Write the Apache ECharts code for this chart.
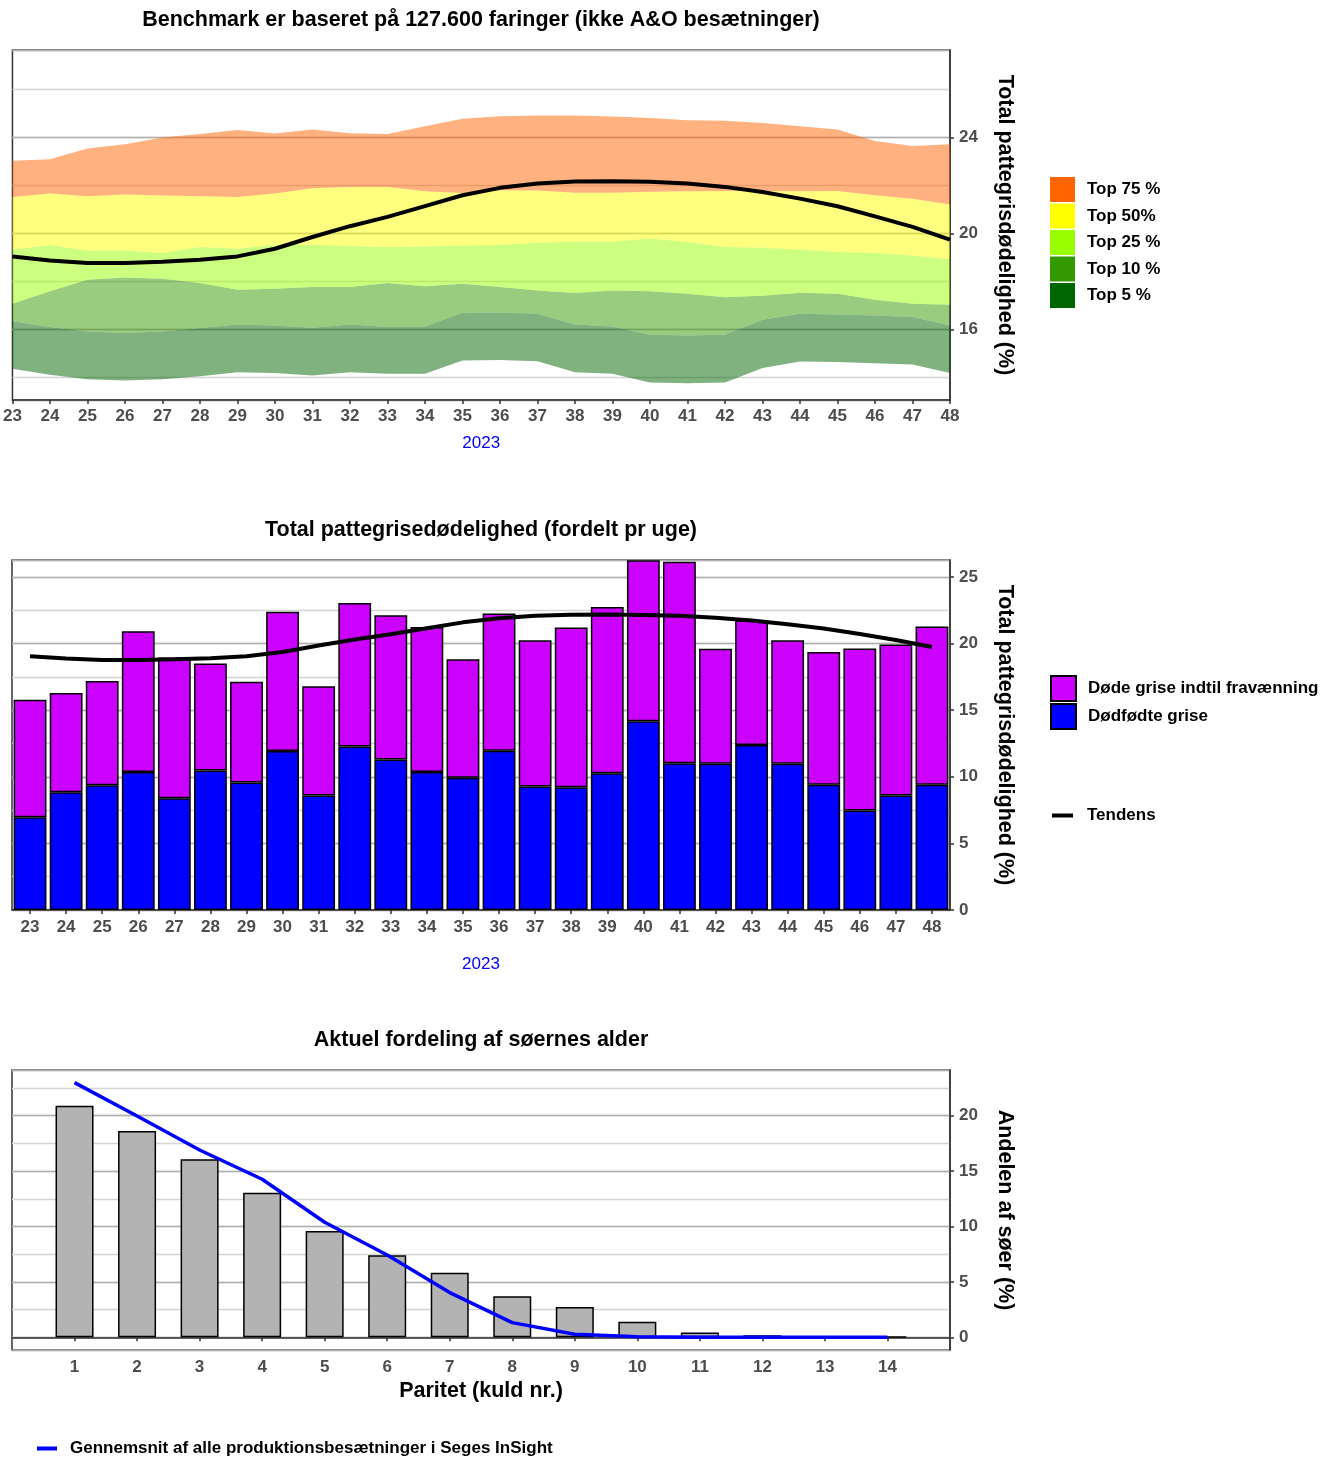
<!DOCTYPE html>
<html><head><meta charset="utf-8">
<script src="https://cdn.jsdelivr.net/npm/echarts@6/dist/echarts.min.js"></script>
<style>html,body{margin:0;padding:0;background:#fff}#c{width:1333px;height:1457px}</style>
</head><body><div id="c"></div>
<script>
// ---------- DATA ----------
const weeks = ['23','24','25','26','27','28','29','30','31','32','33','34','35','36','37','38','39','40','41','42','43','44','45','46','47','48'];
// benchmark band boundaries (top chart)
const top75Upper = [23.03,23.09,23.54,23.72,24.00,24.15,24.31,24.17,24.33,24.18,24.15,24.47,24.78,24.89,24.92,24.92,24.88,24.81,24.72,24.70,24.61,24.47,24.33,23.85,23.65,23.72];
const top50Upper = [21.52,21.66,21.55,21.62,21.58,21.55,21.52,21.66,21.88,21.94,21.94,21.76,21.69,21.80,21.79,21.70,21.70,21.74,21.76,21.77,21.77,21.76,21.77,21.59,21.45,21.20];
const top25Upper = [19.32,19.52,19.29,19.29,19.18,19.43,19.36,19.52,19.53,19.47,19.43,19.45,19.49,19.52,19.61,19.65,19.65,19.79,19.64,19.43,19.40,19.33,19.22,19.18,19.08,18.92];
const top10Upper = [17.06,17.59,18.07,18.16,18.11,17.93,17.65,17.69,17.76,17.76,17.93,17.80,17.90,17.76,17.62,17.51,17.62,17.59,17.48,17.34,17.40,17.52,17.48,17.23,17.06,17.02];
const top5Upper  = [16.34,16.09,15.91,15.84,15.91,16.05,16.20,16.16,16.06,16.20,16.09,16.12,16.69,16.70,16.65,16.20,16.12,15.77,15.74,15.77,16.40,16.65,16.62,16.58,16.51,16.16];
const top5Lower  = [14.35,14.10,13.92,13.86,13.92,14.04,14.21,14.18,14.07,14.21,14.14,14.14,14.70,14.72,14.67,14.21,14.14,13.78,13.75,13.78,14.39,14.66,14.63,14.58,14.53,14.18];
const trend = [19.04,18.87,18.76,18.76,18.82,18.90,19.04,19.36,19.85,20.30,20.69,21.14,21.59,21.90,22.08,22.16,22.18,22.15,22.08,21.94,21.73,21.45,21.13,20.71,20.27,19.74];
// weekly mortality (middle chart)
const stillborn = [6.96,8.84,9.37,10.35,8.39,10.47,9.57,11.93,8.59,12.28,11.30,10.35,9.92,11.95,9.27,9.22,10.27,14.16,11.02,10.98,12.38,10.98,9.40,7.47,8.59,9.40];
const totalMortality = [15.79,16.29,17.19,20.92,18.95,18.50,17.14,22.38,16.79,23.05,22.13,21.25,18.82,22.26,20.25,21.20,22.75,26.26,26.14,19.60,21.75,20.25,19.37,19.62,19.92,21.28];
// parity distribution (bottom chart)
const parity = [1,2,3,4,5,6,7,8,9,10,11,12,13,14];
const sowShare = [20.90,18.62,16.06,13.05,9.59,7.40,5.83,3.70,2.73,1.41,0.42,0.18,0.05,0.03];
const avgShare = [22.98,19.97,16.90,14.26,10.38,7.43,4.03,1.32,0.27,0.05,0,0,0,0];

// ---------- STYLE ----------
const FONT = "'Liberation Sans', Arial, Helvetica, sans-serif";
const tickLabel = {color:'#4d4d4d', fontWeight:'bold', fontSize:17, fontFamily:FONT};
const axisLine = {show:true, lineStyle:{color:'#333', width:1.5}};
const axisTick = {show:true, length:4, inside:false, lineStyle:{color:'#333', width:1.5}};
const majorSplit = {show:true, lineStyle:{color:'#b0b0b0', width:1.3}};
const minorSplit = {show:true, lineStyle:{color:'#d4d4d4', width:1.3}};
const nameStyle = {color:'#000', fontWeight:'bold', fontSize:21.5, fontFamily:FONT};
const legendText = {color:'#000', fontWeight:'bold', fontSize:17, fontFamily:FONT, padding:[0,0,0,7]};
const diff = (a, b) => a.map((v, i) => +(v - b[i]).toFixed(3));

const bandColors = ['#006600','#339900','#99FF00','#FFFF00','#FF6600'];
const bandNames = ['Top 5 %','Top 10 %','Top 25 %','Top 50%','Top 75 %'];
const bandVals = [diff(top5Upper, top5Lower), diff(top10Upper, top5Upper), diff(top25Upper, top10Upper), diff(top50Upper, top25Upper), diff(top75Upper, top50Upper)];

const series = [];
series.push({type:'line', name:'base', xAxisIndex:0, yAxisIndex:1, stack:'bench', data:top5Lower,
  showSymbol:false, lineStyle:{opacity:0, width:0}, silent:true, z:2});
bandNames.forEach((n, i) => {
  series.push({type:'line', name:n, xAxisIndex:0, yAxisIndex:1, stack:'bench', data:bandVals[i],
    color:bandColors[i], showSymbol:false, lineStyle:{width:0, opacity:0},
    areaStyle:{color:bandColors[i], opacity:0.5}, silent:true, z:2});
});
series.push({type:'line', name:'Tendens ', xAxisIndex:0, yAxisIndex:1, data:trend, color:'#000',
  showSymbol:false, lineStyle:{color:'#000', width:4}, z:5});

series.push({type:'bar', name:'Dødfødte grise', xAxisIndex:1, yAxisIndex:3, stack:'m', data:stillborn,
  color:'#0000FF', barCategoryGap:'9%', itemStyle:{color:'#0000FF', borderColor:'#000', borderWidth:1.5}});
series.push({type:'bar', name:'Døde grise indtil fravænning', xAxisIndex:1, yAxisIndex:3, stack:'m', data:diff(totalMortality, stillborn),
  color:'#CC00FF', barCategoryGap:'9%', itemStyle:{color:'#CC00FF', borderColor:'#000', borderWidth:1.5}});
series.push({type:'line', name:'Tendens', xAxisIndex:1, yAxisIndex:3, data:trend, color:'#000',
  showSymbol:false, lineStyle:{color:'#000', width:4}, z:5});

series.push({type:'bar', name:'Andel', xAxisIndex:2, yAxisIndex:5, data:parity.map((p, i) => [p, sowShare[i]]),
  barWidth:38, color:'#b3b3b3', itemStyle:{color:'#b3b3b3', borderColor:'#000', borderWidth:1.5}});
series.push({type:'line', name:'Gennemsnit af alle produktionsbesætninger i Seges InSight', xAxisIndex:2, yAxisIndex:5,
  data:parity.map((p, i) => [p, avgShare[i]]), color:'#0000FF', showSymbol:false,
  lineStyle:{color:'#0000FF', width:3.5}, z:5});

const gridBase = {left:12, width:938, show:true, borderColor:'#333', borderWidth:1.5, backgroundColor:'transparent'};
const yName = 'Total pattegrisdødelighed (%)';

function yPair(gi, min, max, minorInt, majorInt, name, useInterval, showMin) {
  const minor = {gridIndex:gi, type:'value', position:'right', min, max,
    axisLabel:{show:false}, axisTick:{show:false}, axisLine:{show:false}, splitLine:minorSplit};
  const major = {gridIndex:gi, type:'value', position:'right', min, max,
    axisLabel:Object.assign({}, tickLabel, {margin:9, showMinLabel:showMin, showMaxLabel:false}),
    axisTick, axisLine, splitLine:majorSplit,
    name, nameLocation:'middle', nameRotate:-90, nameGap:44, nameTextStyle:nameStyle};
  if (useInterval) { minor.interval = minorInt; major.interval = majorInt; }
  else { minor.minInterval = minor.maxInterval = minorInt; major.minInterval = major.maxInterval = majorInt; }
  return [minor, major];
}

const titleStyle = {fontSize:21.5, fontWeight:'bold', color:'#000', fontFamily:FONT};
const option = {
  animation:false,
  backgroundColor:'#fff',
  textStyle:{fontFamily:FONT},
  title:[
    {text:'Benchmark er baseret på 127.600 faringer (ikke A&O besætninger)', left:481, top:9, textAlign:'center', padding:0, textStyle:titleStyle},
    {text:'Total pattegrisedødelighed (fordelt pr uge)', left:481, top:519, textAlign:'center', padding:0, textStyle:titleStyle},
    {text:'Aktuel fordeling af søernes alder', left:481, top:1029, textAlign:'center', padding:0, textStyle:titleStyle}
  ],
  legend:[
    {data:['Top 75 %','Top 50%','Top 25 %','Top 10 %','Top 5 %'], orient:'vertical', left:1050, top:177,
      itemWidth:25, itemHeight:25, itemGap:1.5, icon:'rect', padding:0, selectedMode:false, textStyle:legendText},
    {data:['Døde grise indtil fravænning','Dødfødte grise'], orient:'vertical', left:1050, top:675,
      itemWidth:25, itemHeight:25, itemGap:1, icon:'rect', padding:0, selectedMode:false, textStyle:legendText},
    {data:['Tendens'], orient:'vertical', left:1052, top:807, itemWidth:21, itemHeight:4, icon:'rect', padding:0,
      selectedMode:false, textStyle:Object.assign({}, legendText, {padding:[0,0,0,9]})},
    {data:['Gennemsnit af alle produktionsbesætninger i Seges InSight'], orient:'horizontal', left:37, top:1440,
      itemWidth:20, itemHeight:4, icon:'rect', padding:0, selectedMode:false,
      textStyle:Object.assign({}, legendText, {padding:[0,0,0,8]})}
  ],
  grid:[
    Object.assign({top:50, height:350}, gridBase),
    Object.assign({top:560, height:350}, gridBase),
    Object.assign({top:1070, height:280}, gridBase)
  ],
  xAxis:[
    {gridIndex:0, type:'category', data:weeks, boundaryGap:false, axisLine, axisTick:Object.assign({interval:0}, axisTick),
      axisLabel:Object.assign({}, tickLabel, {margin:8, interval:0}), splitLine:{show:false},
      name:'2023', nameLocation:'middle', nameGap:35, nameTextStyle:{color:'#0000FF', fontSize:17, fontFamily:FONT}},
    {gridIndex:1, type:'category', data:weeks, boundaryGap:true, axisLine,
      axisTick:Object.assign({interval:0, alignWithLabel:true}, axisTick),
      axisLabel:Object.assign({}, tickLabel, {margin:9, interval:0}), splitLine:{show:false},
      name:'2023', nameLocation:'middle', nameGap:46, nameTextStyle:{color:'#0000FF', fontSize:17, fontFamily:FONT}},
    {gridIndex:2, type:'value', min:0, max:15, interval:1, axisLine, axisTick,
      axisLabel:Object.assign({}, tickLabel, {margin:9, showMinLabel:false, showMaxLabel:false}), splitLine:{show:false},
      name:'Paritet (kuld nr.)', nameLocation:'middle', nameGap:30, nameTextStyle:nameStyle}
  ],
  yAxis:[].concat(
    yPair(0, 13.05, 27.65, 2, 4, yName, false, false),
    yPair(1, 0, 26.27, 2.5, 5, yName, true, true),
    yPair(2, -1.15, 24.12, 2.5, 5, 'Andelen af søer (%)', false, false)
  ),
  series
};
const chart = echarts.init(document.getElementById('c'), null, {renderer:'canvas'});
chart.setOption(option);
</script>
</body></html>
